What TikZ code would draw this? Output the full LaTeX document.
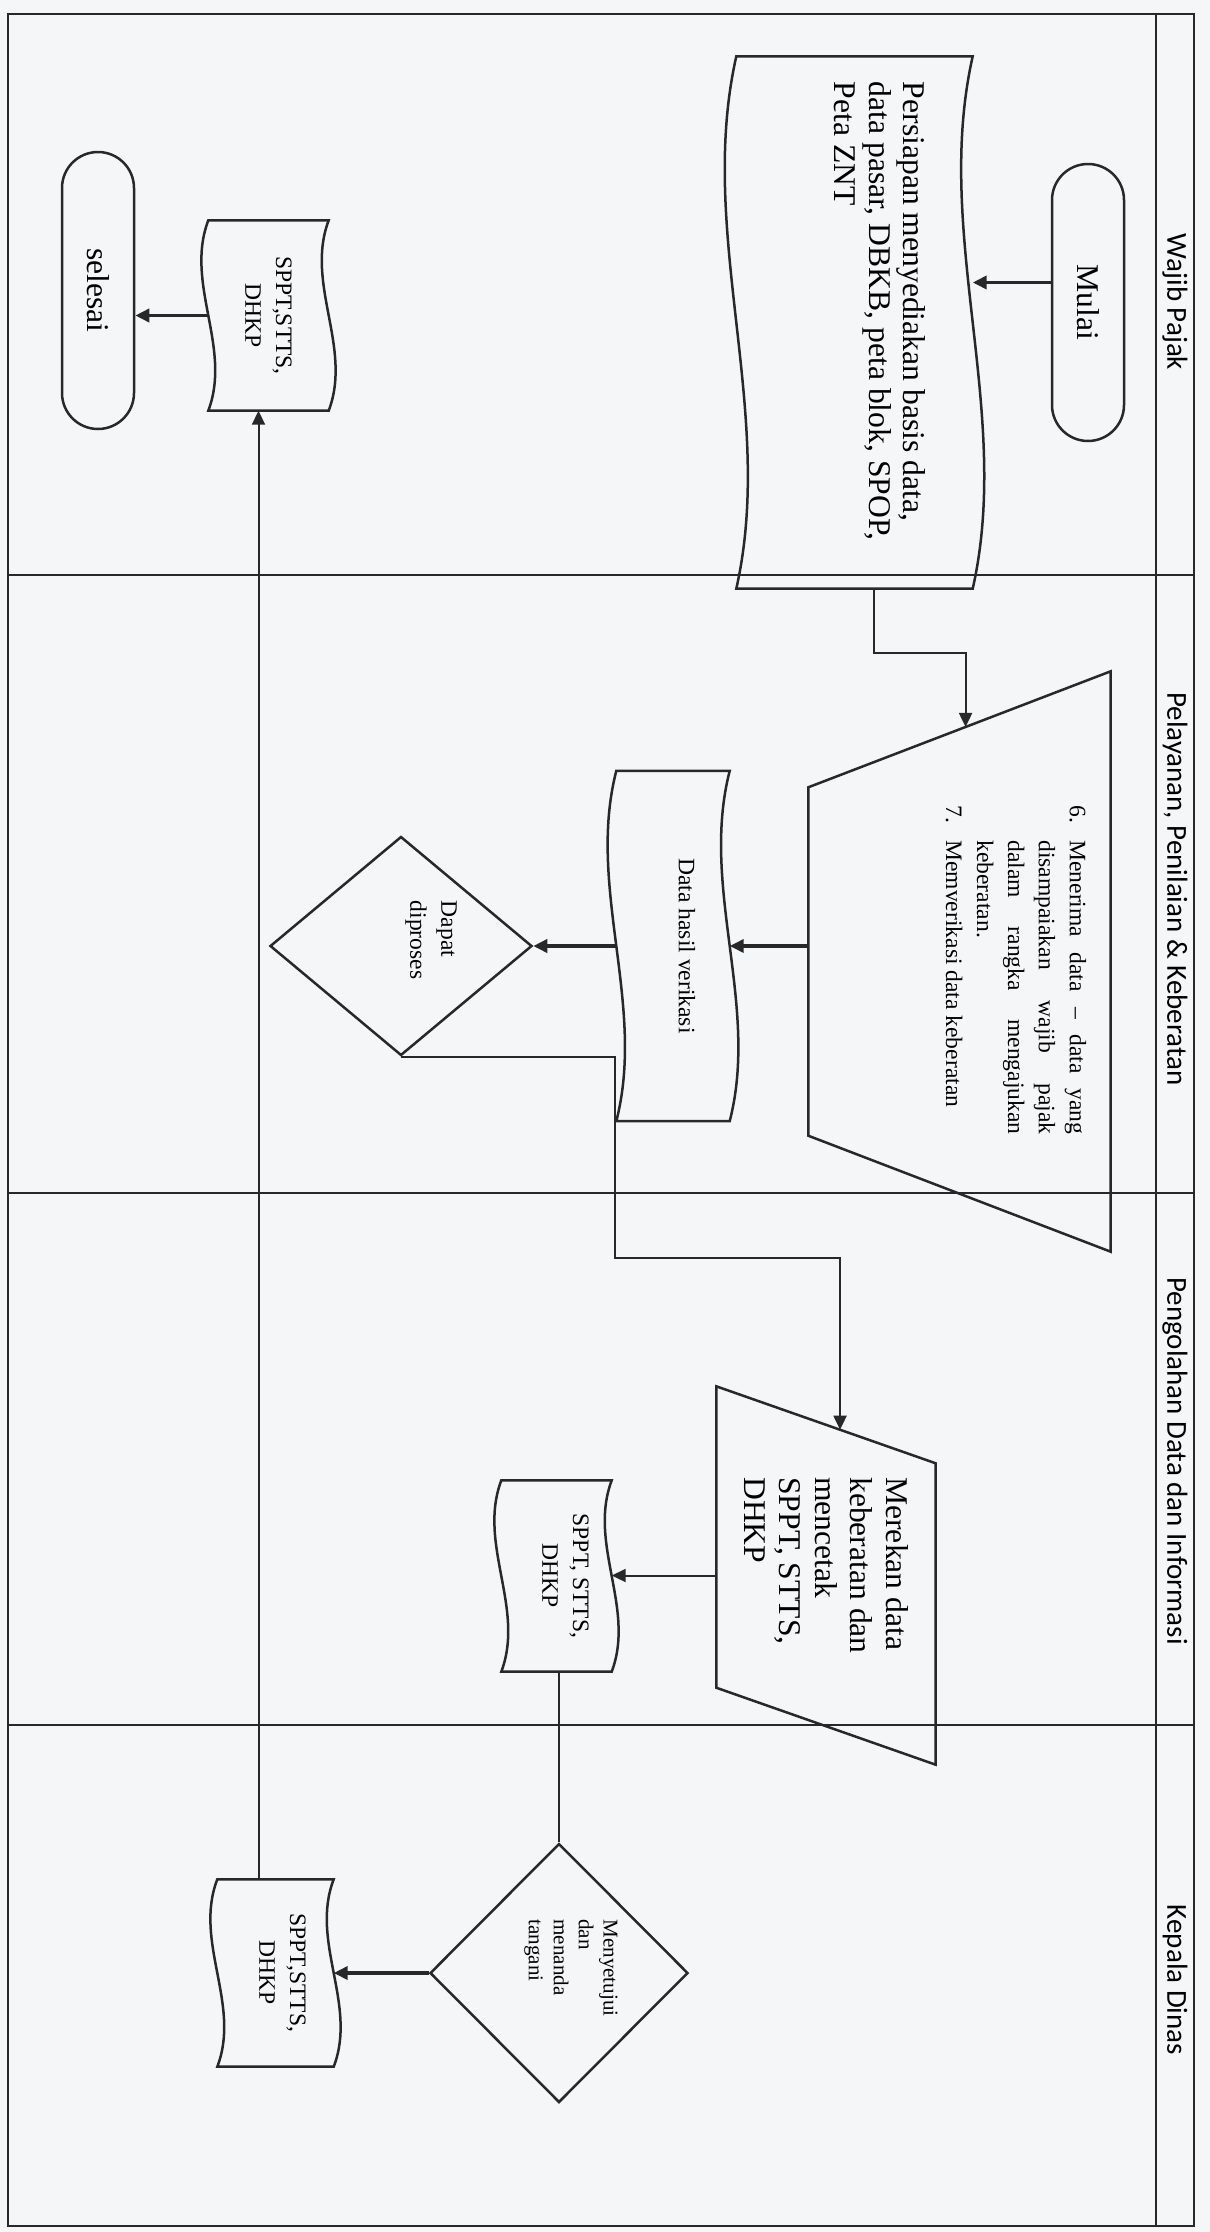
\documentclass[tikz,border=0pt]{standalone}
\usepackage{fontspec}
\setmainfont{Liberation Serif}
\newfontfamily\lanefont{Carlito}
\usetikzlibrary{shapes.geometric,calc,arrows.meta}
\definecolor{paper}{RGB}{245,246,248}
\definecolor{ink}{RGB}{40,40,40}

\newcommand\tapeline[2]{%
  \draw[shp] (#1.north west)
    .. controls ($(#1.north west)!0.333!(#1.south west)+(-#2,0)$)
    and ($(#1.north west)!0.667!(#1.south west)+(#2,0)$) .. (#1.south west)
    -- (#1.south east)
    .. controls ($(#1.north east)!0.667!(#1.south east)+(#2,0)$)
    and ($(#1.north east)!0.333!(#1.south east)+(-#2,0)$) .. (#1.north east)
    -- cycle;}

\begin{document}
\begin{tikzpicture}[x = 1mm, y = -1mm,
  lane/.style = {draw = ink, line width = 0.25mm},
  shp/.style = {draw = ink, line width = 0.25mm},
  ghost/.style 2 args = {inner sep = 0pt, minimum width = #1mm, minimum height = #2mm},
  term/.style = {shp, rounded corners = 3.6mm, inner sep = 0pt,
    minimum width = 7.2mm, minimum height = 27.7mm},
  decision/.style 2 args = {shp, diamond, inner sep = 0pt,
    minimum width = #1mm, minimum height = #2mm},
  big/.style = {rotate = -90, inner sep = 0pt, align = left,
    font = \fontsize{9}{10}\selectfont},
  small/.style = {rotate = -90, inner sep = 0pt, align = center,
    font = \fontsize{6.7}{8.8}\selectfont},
  tiny/.style = {rotate = -90, inner sep = 0pt, align = left,
    font = \fontsize{6}{7.1}\selectfont},
  lanetitle/.style = {rotate = -90, inner sep = 0pt,
    font = \lanefont\fontsize{8.25}{9}\selectfont},
  arr/.style = {draw = ink, line width = 0.2mm, -{Triangle[length=1.4mm,width=1.3mm]}},
  arrb/.style = {arr, line width = 0.35mm}]

\fill[paper] (0,0) rectangle (121,223.2);
\useasboundingbox (0,0) rectangle (121,223.2);

% lanes
\draw[lane] (0.8,1.4) rectangle (119.4,222.6);
\draw[lane] (115.6,1.4) -- (115.6,222.6);
\foreach \y in {57.5,119.3,172.5}
  \draw[lane] (0.8,\y) -- (119.4,\y);
\foreach \y/\name [count=\i] in {30.2/Wajib Pajak,
    88.9/{Pelayanan, Penilaian \& Keberatan},
    146.1/Pengolahan Data dan Informasi, 198.0/Kepala Dinas}
  \node[lanetitle] (lane\i) at (117.5,\y) {\name};

% Wajib Pajak
\node[term] (mulai) at (108.8,30.25) {};
\node[big] (mulai-t) at (mulai) {Mulai};
\node[ghost={23.5}{53.1}] (persiapan) at (85.45,32.25) {};
\tapeline{persiapan}{4}
\node[big, font = \fontsize{9}{9.8}\selectfont] (persiapan-t)
  at ([xshift=2.55mm,yshift=1.15mm]persiapan)
  {Persiapan menyediakan basis data,\\ data pasar, DBKB, peta blok, SPOP,\\ Peta ZNT};
\node[ghost={11.9}{18.9}] (spptA) at (26.85,31.55) {};
\tapeline{spptA}{2.4}
\node[small] (spptA-t) at (spptA) {SPPT,STTS,\\ DHKP};
\node[term] (selesai) at (9.8,29.05) {};
\node[big] (selesai-t) at (selesai) {selesai};

% Pelayanan, Penilaian & Keberatan
\node[ghost={30.1}{57.9}] (terima) at (95.95,96.15) {};
\draw[shp] (terima.north east) -- (terima.south east)
  -- ([yshift=11.6mm]terima.south west) -- ([yshift=-11.6mm]terima.north west) -- cycle;
\node[small, align = left] (terima-t) at ([xshift=5.65mm,yshift=-0.85mm]terima)
  {\parbox{32.9mm}{\fontsize{6.7}{8.8}\selectfont
   \hangindent=3.5mm \hangafter=1 \makebox[3.5mm][l]{6.}Menerima data -- data yang\linebreak
   disampaiakan wajib pajak\linebreak dalam rangka mengajukan\linebreak keberatan.\par
   \hangindent=3.5mm \hangafter=1 \makebox[3.5mm][l]{7.}Memverikasi data keberatan}};
\node[ghost={11.2}{34.9}] (hasil) at (67.3,94.6) {};
\tapeline{hasil}{3}
\node[small] (hasil-t) at ([xshift=1.4mm]hasil) {Data hasil verikasi};
\node[decision={26.2}{21.9}] (dapat) at (40.1,94.6) {};
\node[small, align = left] (dapat-t) at ([xshift=3mm,yshift=0.6mm]dapat) {Dapat\\ diproses};

% Pengolahan Data dan Informasi
\node[ghost={21.8}{37.7}] (rekam) at (82.6,157.55) {};
\draw[shp] (rekam.north west) -- ([yshift=-7.7mm]rekam.north east)
  -- (rekam.south east) -- ([yshift=7.7mm]rekam.south west) -- cycle;
\node[big, font = \fontsize{9}{10.1}\selectfont] (rekam-t) at ([yshift=1mm]rekam)
  {Merekan data\\ keberatan dan\\ mencetak\\ SPPT, STTS,\\ DHKP};
\node[ghost={10.9}{19.0}] (spptB) at (55.65,157.6) {};
\tapeline{spptB}{2.4}
\node[small] (spptB-t) at ([xshift=0.9mm]spptB) {SPPT, STTS,\\ DHKP};

% Kepala Dinas
\node[decision={25.8}{25.9}] (setuju) at (55.9,197.3) {};
\node[tiny] (setuju-t) at ([xshift=1.2mm,yshift=0.5mm]setuju) {Menyetujui\\ dan\\ menanda\\ tangani};
\node[ghost={11.5}{18.6}] (spptC) at (27.55,197.3) {};
\tapeline{spptC}{2.4}
\node[small] (spptC-t) at ([xshift=0.7mm]spptC) {SPPT,STTS,\\ DHKP};

% connectors
\coordinate (mulai-out) at ([yshift=2mm]mulai.west);
\coordinate (terima-in) at ($([yshift=-11.6mm]terima.north west)!0.52!(terima.north east)$);
\coordinate (rekam-in) at ($(rekam.north west)!0.564!([yshift=-7.7mm]rekam.north east)$);
\coordinate (spptA-in) at ([xshift=-1mm]spptA.south);

\draw[arrb] (mulai-out) -- (mulai-out -| persiapan.east);
\draw[arr] ([xshift=1.95mm]persiapan.south) -- ++(0,6.4) -| (terima-in);
\draw[arrb] (terima.west |- hasil) -- (hasil.east);
\draw[arrb] (hasil.west) -- (dapat.east);
\draw[arr] (dapat.south) -| ++(21.4,20.1) -| (rekam-in);
\draw[arr] (rekam.west) -- (rekam.west -| spptB.east);
\draw[shp] (spptB.south -| setuju.north) -- (setuju.north);
\draw[arrb] (setuju.west) -- (spptC.east);
\draw[arr] (spptC.north -| spptA-in) -- (spptA-in);
\draw[arrb] (spptA.west) -- (spptA.west -| selesai.east);
\end{tikzpicture}
\end{document}
